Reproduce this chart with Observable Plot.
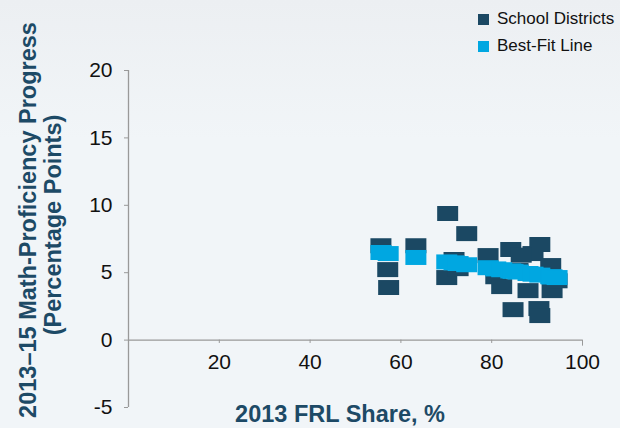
<!DOCTYPE html>
<html><head><meta charset="utf-8">
<script src="https://cdn.jsdelivr.net/npm/d3@7"></script>
<script src="https://cdn.jsdelivr.net/npm/@observablehq/plot@0.6"></script>
<style>
body{margin:0;background:#f0f4f7;}
#wrap{position:relative;width:620px;height:428px;overflow:hidden;background:linear-gradient(#eceff2,#f1f5f8 140px);font-family:"Liberation Sans Narrow","Liberation Sans",sans-serif;}
#wrap svg{position:absolute;left:0;top:0;}
.ttl{position:absolute;color:#1d4a66;font-weight:bold;font-size:23.5px;white-space:nowrap;}
.leg{position:absolute;left:478px;font-size:17px;color:#111;white-space:nowrap;}
.leg span{display:inline-block;width:11px;height:11px;margin-right:8px;vertical-align:-1px;}
</style></head><body><div id="wrap"></div>
<script>
// School districts: 2013 FRL share (%) and 2013–15 math-proficiency progress (points)
const frl      = [55.6, 57.1, 57.3, 63.3, 70.3, 70.1, 71.7, 72.6, 74.5, 79.2, 80.9, 82.2, 84.2, 84.7, 85.8, 88.0, 89.1, 90.6, 93.0, 93.3, 90.4, 90.6, 94.4, 86.5];
const progress = [7.0, 5.23, 3.9, 7.0, 9.39, 4.64, 5.98, 5.3, 7.9, 6.27, 4.7, 3.97, 6.72, 2.26, 5.16, 3.67, 6.42, 7.09, 5.53, 3.67, 2.34, 1.82, 4.4, 6.3];
// Best-fit line values read at each district
const fitX = [55.6, 57.2, 63.3, 70.1, 71.7, 72.6, 74.5, 79.2, 80.9, 82.2, 84.2, 84.7, 85.8, 88.0, 89.1, 90.6, 93.0, 93.3, 94.4];
const fitY = [6.50, 6.42, 6.13, 5.80, 5.73, 5.68, 5.59, 5.37, 5.28, 5.22, 5.13, 5.10, 5.05, 4.94, 4.89, 4.82, 4.70, 4.69, 4.64];
const xTicks = [20, 40, 60, 80, 100];
const yTicks = [-5, 0, 5, 10, 15, 20];
const seriesNames = ["School Districts", "Best-Fit Line"];
const colors = ["#1b4863", "#00a7e1"];

const districts = frl.map((x, i) => ({x, y: progress[i]}));
const fit = fitX.map((x, i) => ({x, y: fitY[i]}));
const box = {draw(ctx){ ctx.rect(-10.5, -7.5, 21, 15); }};

const plot = Plot.plot({
  width: 620, height: 428,
  marginLeft: 128, marginRight: 38, marginTop: 70, marginBottom: 21,
  style: {background: "transparent", fontFamily: "'Liberation Sans Narrow','Liberation Sans',sans-serif", fontSize: "21px", color: "#111"},
  x: {domain: [0, 100], axis: null},
  y: {domain: [-5, 20], axis: null},
  marks: [
    Plot.axisY({ticks: yTicks, tickSize: 4, tickPadding: 12, stroke: "#999", fill: "#111", label: null, fontSize: 21, tickFormat: d => String(d)}),
    Plot.ruleX([0], {stroke: "#999", strokeWidth: 1.3}),
    Plot.ruleY([0], {stroke: "#999", strokeWidth: 1.3}),
    Plot.ruleX(xTicks, {x: d => d, y1: 0, y2: d => d === 100 ? -0.45 : -0.25, stroke: "#999"}),
    Plot.text(xTicks, {x: d => d, y: 0, dy: 22, text: d => String(d), fill: "#111", fontSize: 21}),
    Plot.dot(districts, {x: "x", y: "y", symbol: box, fill: colors[0], stroke: "none"}),
    Plot.dot(fit, {x: "x", y: "y", symbol: box, fill: colors[1], stroke: "none"})
  ]
});
const wrap = document.getElementById("wrap");
wrap.appendChild(plot);

function addDiv(cls, html, css){ const d = document.createElement("div"); d.className = cls; d.innerHTML = html; Object.assign(d.style, css); wrap.appendChild(d); return d; }
addDiv("ttl", "2013 FRL Share, %", {left: "340px", top: "414px", transform: "translate(-50%,-50%)"});
addDiv("ttl", "2013–15 Math-Proficiency Progress", {left: "28px", top: "220px", transform: "translate(-50%,-50%) rotate(-90deg)"});
addDiv("ttl", "(Percentage Points)", {left: "53px", top: "225px", transform: "translate(-50%,-50%) rotate(-90deg)"});
seriesNames.forEach((n, i) => {
  addDiv("leg", `<span style="background:${colors[i]}"></span>${n}`, {top: (i === 0 ? 9 : 36) + "px"});
});
</script>
</body></html>
